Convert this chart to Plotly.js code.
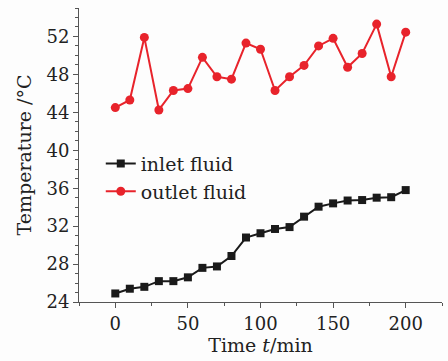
<!DOCTYPE html>
<html>
<head>
<meta charset="utf-8">
<script src="https://cdn.plot.ly/plotly-3.0.1.min.js"></script>
<style>html,body{margin:0;padding:0;background:#fdfdfd;}#chart{width:448px;height:361px;}</style>
</head>
<body>
<div id="chart"></div>
<script>
var time = [0,10,20,30,40,50,60,70,80,90,100,110,120,130,140,150,160,170,180,190,200];
var inletFluid = [24.9,25.4,25.6,26.2,26.2,26.6,27.6,27.75,28.85,30.8,31.25,31.7,31.9,33.0,34.05,34.4,34.7,34.75,35.0,35.05,35.8];
var outletFluid = [44.5,45.3,51.9,44.25,46.3,46.5,49.8,47.75,47.5,51.3,50.65,46.3,47.75,48.95,51.0,51.8,48.75,50.2,53.3,47.75,52.45];
var seriesNames = ["inlet fluid","outlet fluid"];
var yTicks = [24,28,32,36,40,44,48,52];
var xTicks = [0,50,100,150,200];

var font = "DejaVu Serif, Liberation Serif, serif";
var traces = [
  {x: time, y: inletFluid, name: seriesNames[0], mode: "lines+markers",
   line: {color: "#1a1a1a", width: 2}, marker: {symbol: "square", size: 8, color: "#1a1a1a"}},
  {x: time, y: outletFluid, name: seriesNames[1], mode: "lines+markers",
   line: {color: "#e8232b", width: 2}, marker: {symbol: "circle", size: 9, color: "#e8232b"}}
];
var layout = {
  width: 448, height: 361,
  margin: {l: 79, r: 6, t: 8, b: 59},
  paper_bgcolor: "#fdfdfd", plot_bgcolor: "#fdfdfd",
  font: {family: font, size: 18, color: "#222"},
  showlegend: true,
  legend: {x: 0.06, y: 0.535, xanchor: "left", yanchor: "top", bgcolor: "rgba(0,0,0,0)",
           font: {family: font, size: 19, color: "#222"}, tracegroupgap: 0, itemwidth: 30},
  xaxis: {range: [-25, 225], tickvals: xTicks, ticks: "outside", ticklen: 5, tickcolor: "#555",
          showline: true, linecolor: "#555", linewidth: 1, showgrid: false, zeroline: false,
          minor: {dtick: 25, ticks: "outside", ticklen: 3, tickcolor: "#555"},
          tickfont: {family: font, size: 18, color: "#222"},
          title: {text: "Time <i>t</i>/min", font: {family: font, size: 19, color: "#222"}, standoff: 4}},
  yaxis: {range: [24, 55], tickvals: yTicks, ticks: "outside", ticklen: 5, tickcolor: "#555",
          showline: true, linecolor: "#555", linewidth: 1, showgrid: false, zeroline: false,
          minor: {dtick: 1, ticks: "outside", ticklen: 3, tickcolor: "#555"},
          tickfont: {family: font, size: 18, color: "#222"},
          title: {text: "Temperature /°C", font: {family: font, size: 19, color: "#222"}, standoff: 9}}
};
Plotly.newPlot("chart", traces, layout, {displayModeBar: false, staticPlot: true});
</script>
</body>
</html>
